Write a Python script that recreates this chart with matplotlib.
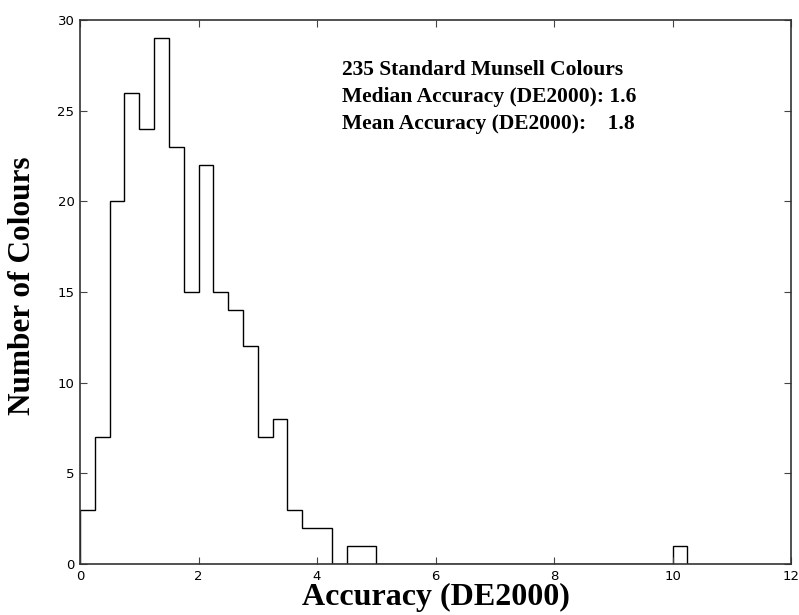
import numpy as np
import matplotlib
matplotlib.use("Agg")
import matplotlib.pyplot as plt

# histogram of DE2000 errors, bin width 0.25
bin_edges = np.arange(0, 10.25 + 0.001, 0.25)
counts = [3, 7, 20, 26, 24, 29, 23, 15, 22, 15, 14, 12, 7, 8, 3, 2, 2, 0, 1, 1,
          0, 0, 0, 0, 0, 0, 0, 0, 0, 0, 0, 0, 0, 0, 0, 0, 0, 0, 0, 0, 1]

info_lines = ["235 Standard Munsell Colours",
              "Median Accuracy (DE2000): 1.6",
              "Mean Accuracy (DE2000):    1.8"]

fig = plt.figure(figsize=(7.99, 6.15), dpi=100)
ax = fig.add_axes([80 / 799, 1 - 564 / 615, (791 - 80) / 799, (564 - 20) / 615])

ax.stairs(counts, bin_edges, color="black", linewidth=1.0)

ax.set_xlim(0, 12)
ax.set_ylim(0, 30)
ax.set_xticks(np.arange(0, 13, 2))
ax.set_yticks(np.arange(0, 31, 5))
ax.tick_params(direction="in", top=True, right=True, length=5, width=0.8,
               color="#444444", labelsize=9.5, pad=4)
for s in ax.spines.values():
    s.set_linewidth(1.2)
    s.set_color("#333333")

serif = ["Liberation Serif", "DejaVu Serif"]
ax.set_xlabel("Accuracy (DE2000)", fontsize=23, fontweight="bold", family=serif, labelpad=0)
fig.text(22.5 / 799, 1 - 286 / 615, "Number of Colours", rotation=90, fontsize=22.5,
         fontweight="bold", family=serif, ha="center", va="center")

for i, line in enumerate(info_lines):
    fig.text(342 / 799, 1 - (70 + 27 * i) / 615, line, fontsize=15.5, fontweight="bold",
             family=serif, va="center", ha="left")

fig.savefig("out.png", dpi=100)
